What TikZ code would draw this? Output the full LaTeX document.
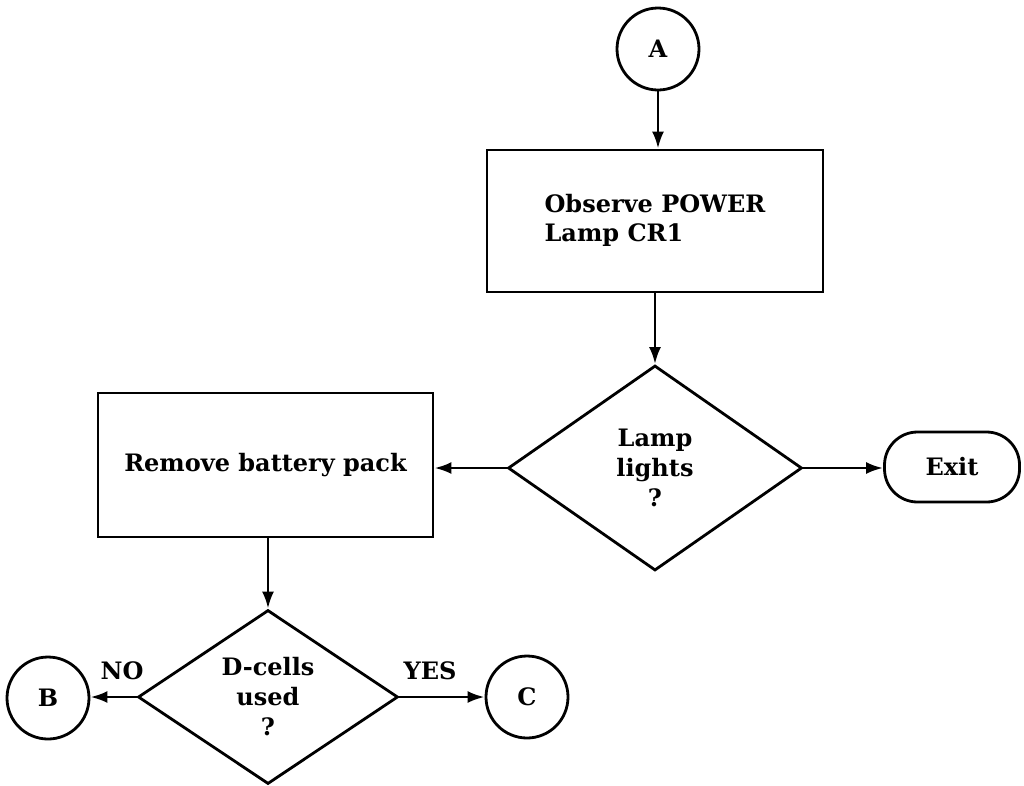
\documentclass[tikz,border=0pt]{standalone}
\usepackage{fontspec}
\setmainfont{DejaVu Serif}
\usetikzlibrary{shapes.geometric,arrows.meta}
\begin{document}
\begin{tikzpicture}[x=1pt,y=-1pt,
  every node/.style={font=\fontsize{24}{30}\selectfont\bfseries},
  conn/.style={line width=2.8pt,-{Latex[length=17pt,width=12pt]}},
  procbox/.style={draw,line width=2.8pt,rectangle,inner sep=0pt},
  decide/.style={draw,line width=2.8pt,diamond,inner sep=0pt,align=center},
  connector/.style={draw,line width=2.8pt,circle,minimum size=82pt,inner sep=0pt},
  terminal/.style={draw,line width=2.8pt,rectangle,rounded corners=33pt,inner sep=0pt},
  lbl/.style={inner sep=0pt,anchor=base}]
\useasboundingbox (0,0) rectangle (1024,785);
\node[connector] (A) at (658,49) {A};
\node[procbox,minimum width=336pt,minimum height=142pt] (obs) at (655,221)
  {\begin{tabular}{@{}l@{}}Observe POWER\\[-1pt]Lamp CR1\end{tabular}};
\node[decide,minimum width=294pt,minimum height=205pt] (lamp) at (655,468)
  {Lamp\\lights\\?};
\node[procbox,minimum width=335pt,minimum height=144pt] (rem) at (265.5,465)
  {Remove battery pack};
\node[terminal,minimum width=135pt,minimum height=70pt] (exit) at (952,467) {Exit};
\node[decide,minimum width=260pt,minimum height=174pt] (dc) at (268,697)
  {D-cells\\used\\?};
\node[connector] (B) at (48,698) {B};
\node[connector] (C) at (527,697) {C};

\draw[conn] (A.south) -- (obs.north -| A.south);
\draw[conn] (obs.south -| lamp.north) -- (lamp.north);
\draw[conn] (lamp.west) -- (rem.east |- lamp.west);
\draw[conn] (lamp.east) -- (exit.west |- lamp.east);
\draw[conn] (rem.south -| dc.north) -- (dc.north);
\draw[conn] (dc.west) -- (B.east |- dc.west);
\draw[conn] (dc.east) -- (C.west |- dc.east);
\node[lbl] (no) at (122,679) {NO};
\node[lbl] (yes) at (430,679) {YES};
\end{tikzpicture}
\end{document}
